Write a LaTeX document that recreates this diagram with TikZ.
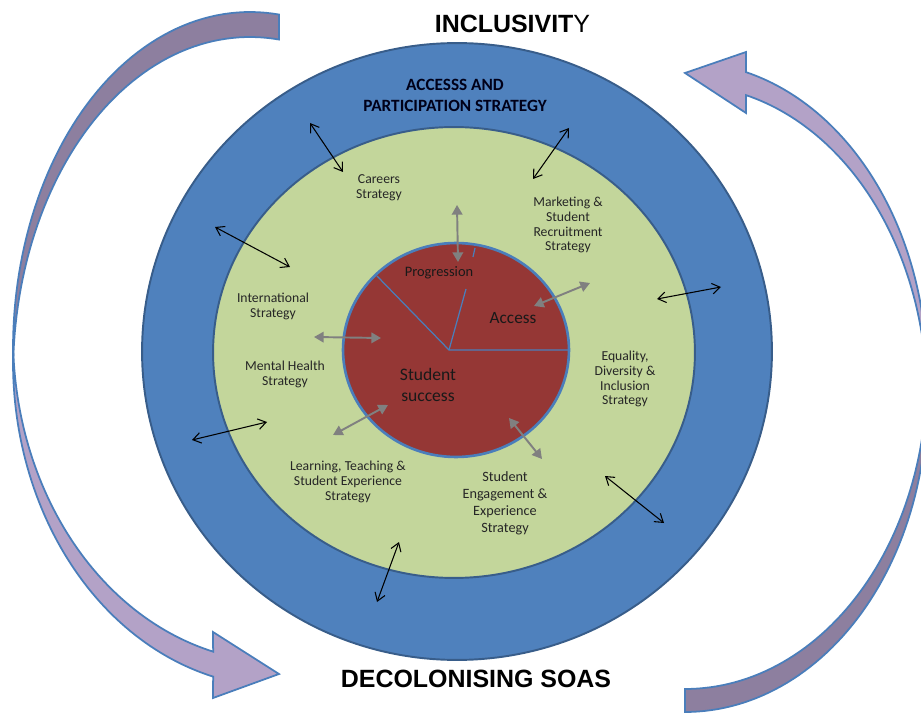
\documentclass[tikz,border=0pt]{standalone}
\usepackage{fontspec}
\setmainfont{Carlito}
\newfontfamily\arialfont{Liberation Sans}
\usepackage{tikz}
\usetikzlibrary{arrows.meta,shapes}

\definecolor{ringblue}{HTML}{4F81BD}
\definecolor{ringedge}{HTML}{385D8A}
\definecolor{midgreen}{HTML}{C3D69B}
\definecolor{corered}{HTML}{953735}
\definecolor{coreedge}{HTML}{4A7EBB}
\definecolor{bandback}{HTML}{8D7F9F}
\definecolor{bandfront}{HTML}{B3A2C7}
\definecolor{bandedge}{HTML}{4A7EBB}

\begin{document}
\begin{tikzpicture}
[x=0.02cm,y=-0.02cm]
\tikzset{
	ringline/.style = {draw=ringedge, line width=1.1pt},
	bandrear/.style = {fill=bandback, draw=bandedge, line width=1pt},
	bandface/.style = {fill=bandfront, draw=bandedge, line width=1pt},
	pieline/.style = {draw=coreedge, line width=0.7pt},
	headline/.style = {font=\arialfont\fontsize{14.2}{17}\selectfont},
	stratlabel/.style = {align=center, font=\fontsize{7.8}{8.5}\selectfont, text=black!85},
	corelabel/.style = {align=center, text=black!90},
	linkarrow/.style = {{Straight Barb[length=4.5pt,width=6pt]}-{Straight Barb[length=4.5pt,width=6pt]}, line width=0.6pt},
	flowarrow/.style = {{Triangle[length=5.5pt,width=6pt]}-{Triangle[length=5.5pt,width=6pt]}, draw=gray, line width=1.1pt}
}
\useasboundingbox (0,0) rectangle (921,713);

% rings
\draw[ringline, fill=ringblue] (457,351.5) ellipse [x radius=6.3cm, y radius=6.17cm];
\draw[ringline, fill=midgreen] (454,352.5) ellipse [x radius=4.82cm, y radius=4.51cm];
\draw[draw=coreedge, line width=1.5pt, fill=corered] (456,350) ellipse [x radius=2.26cm, y radius=2.14cm];

% pie inside the core
\coordinate (hub) at (449,350);
\coordinate (pieE) at (569,350);
\coordinate (pieW) at (377,276);
\coordinate (pieN) at (466,289);
\coordinate (stubA) at (475,248);
\coordinate (stubB) at (473,257);
\draw[pieline] (pieW) -- (hub) -- (pieE);
\draw[pieline] (hub) -- (pieN);
\draw[pieline] (stubA) -- (stubB);

% curved band, left
\filldraw[bandrear] plot[domain=-82.97:-182.13, samples=60] ({250+237*cos(\x)},{349+337*sin(\x)})
	-- plot[domain=-177.87:-82.97, samples=60] ({250+237*cos(\x)},{374+337*sin(\x)}) -- cycle;
\filldraw[bandface] plot[domain=182.2:104.5, samples=60] ({280+267*cos(\x)},{362+325*sin(\x)})
	-- (213,698) -- (279,674) -- (213,632)
	-- plot[domain=104.5:177.8, samples=60] ({280+267*cos(\x)},{337+325*sin(\x)}) -- cycle;

% curved band, right
\filldraw[bandrear] plot[domain=90:-2.1, samples=60] ({685+242*cos(\x)},{398.5+313.5*sin(\x)})
	-- plot[domain=2.1:90, samples=60] ({685+242*cos(\x)},{375.5+313.5*sin(\x)}) -- cycle;
\filldraw[bandface] plot[domain=-2.1:-75.4, samples=60] ({685+242*cos(\x)},{398.5+313.5*sin(\x)})
	-- (746,113) -- (685,73) -- (746,52)
	-- plot[domain=-75.4:2.1, samples=60] ({685+242*cos(\x)},{375.5+313.5*sin(\x)}) -- cycle;

% titles
\node[headline] (incl) at (512.5,24) {{\bfseries INCLUSIVIT}Y};
\node[headline, font=\arialfont\bfseries\fontsize{14.2}{17}\selectfont] (decol) at (476,679) {DECOLONISING SOAS};
\node[align=center, font=\bfseries\fontsize{9.8}{11.9}\selectfont, text=black!90!blue] (aps) at (455,95) {ACCESSS AND\\PARTICIPATION STRATEGY};

% strategies
\node[stratlabel] (careers) at (379,188) {Careers\\Strategy};
\node[stratlabel] (market) at (568,225) {Marketing \&\\Student\\Recruitment\\Strategy};
\node[stratlabel] (intl) at (273,306) {International\\Strategy};
\node[stratlabel] (mental) at (285,374) {Mental Health\\Strategy};
\node[stratlabel] (learn) at (348,482) {Learning, Teaching \&\\Student Experience\\Strategy};
\node[stratlabel, font=\fontsize{8.1}{9.6}\selectfont] (engage) at (505,503) {Student\\Engagement \&\\Experience\\Strategy};
\node[stratlabel] (equal) at (625,379) {Equality,\\Diversity \&\\Inclusion\\Strategy};

% core
\node[corelabel, font=\fontsize{8.2}{10}\selectfont] (prog) at (439,273) {Progression};
\node[corelabel, font=\fontsize{9.8}{12}\selectfont] (acc) at (513,318) {Access};
\node[corelabel, font=\fontsize{10}{11.9}\selectfont] (succ) at (428,385) {Student\\success};

% arrows across the rings
\coordinate (la1) at (310,123); \coordinate (lb1) at (343,172);
\coordinate (la2) at (215,227); \coordinate (lb2) at (290,267);
\coordinate (la3) at (569,128); \coordinate (lb3) at (533,179);
\coordinate (la4) at (657,299); \coordinate (lb4) at (721,287);
\coordinate (la5) at (192,440); \coordinate (lb5) at (267,422);
\coordinate (la6) at (399,542); \coordinate (lb6) at (377,602);
\coordinate (la7) at (605,476); \coordinate (lb7) at (664,523);
\foreach \i in {1,...,7}
	\draw[linkarrow] (la\i) -- (lb\i);

\coordinate (fa1) at (457,205); \coordinate (fb1) at (458,262);
\coordinate (fa2) at (590,283); \coordinate (fb2) at (534,306);
\coordinate (fa3) at (314,337); \coordinate (fb3) at (381,338);
\coordinate (fa4) at (333,435); \coordinate (fb4) at (388,405);
\coordinate (fa5) at (509,418); \coordinate (fb5) at (542,459);
\foreach \i in {1,...,5}
	\draw[flowarrow] (fa\i) -- (fb\i);

\end{tikzpicture}
\end{document}
